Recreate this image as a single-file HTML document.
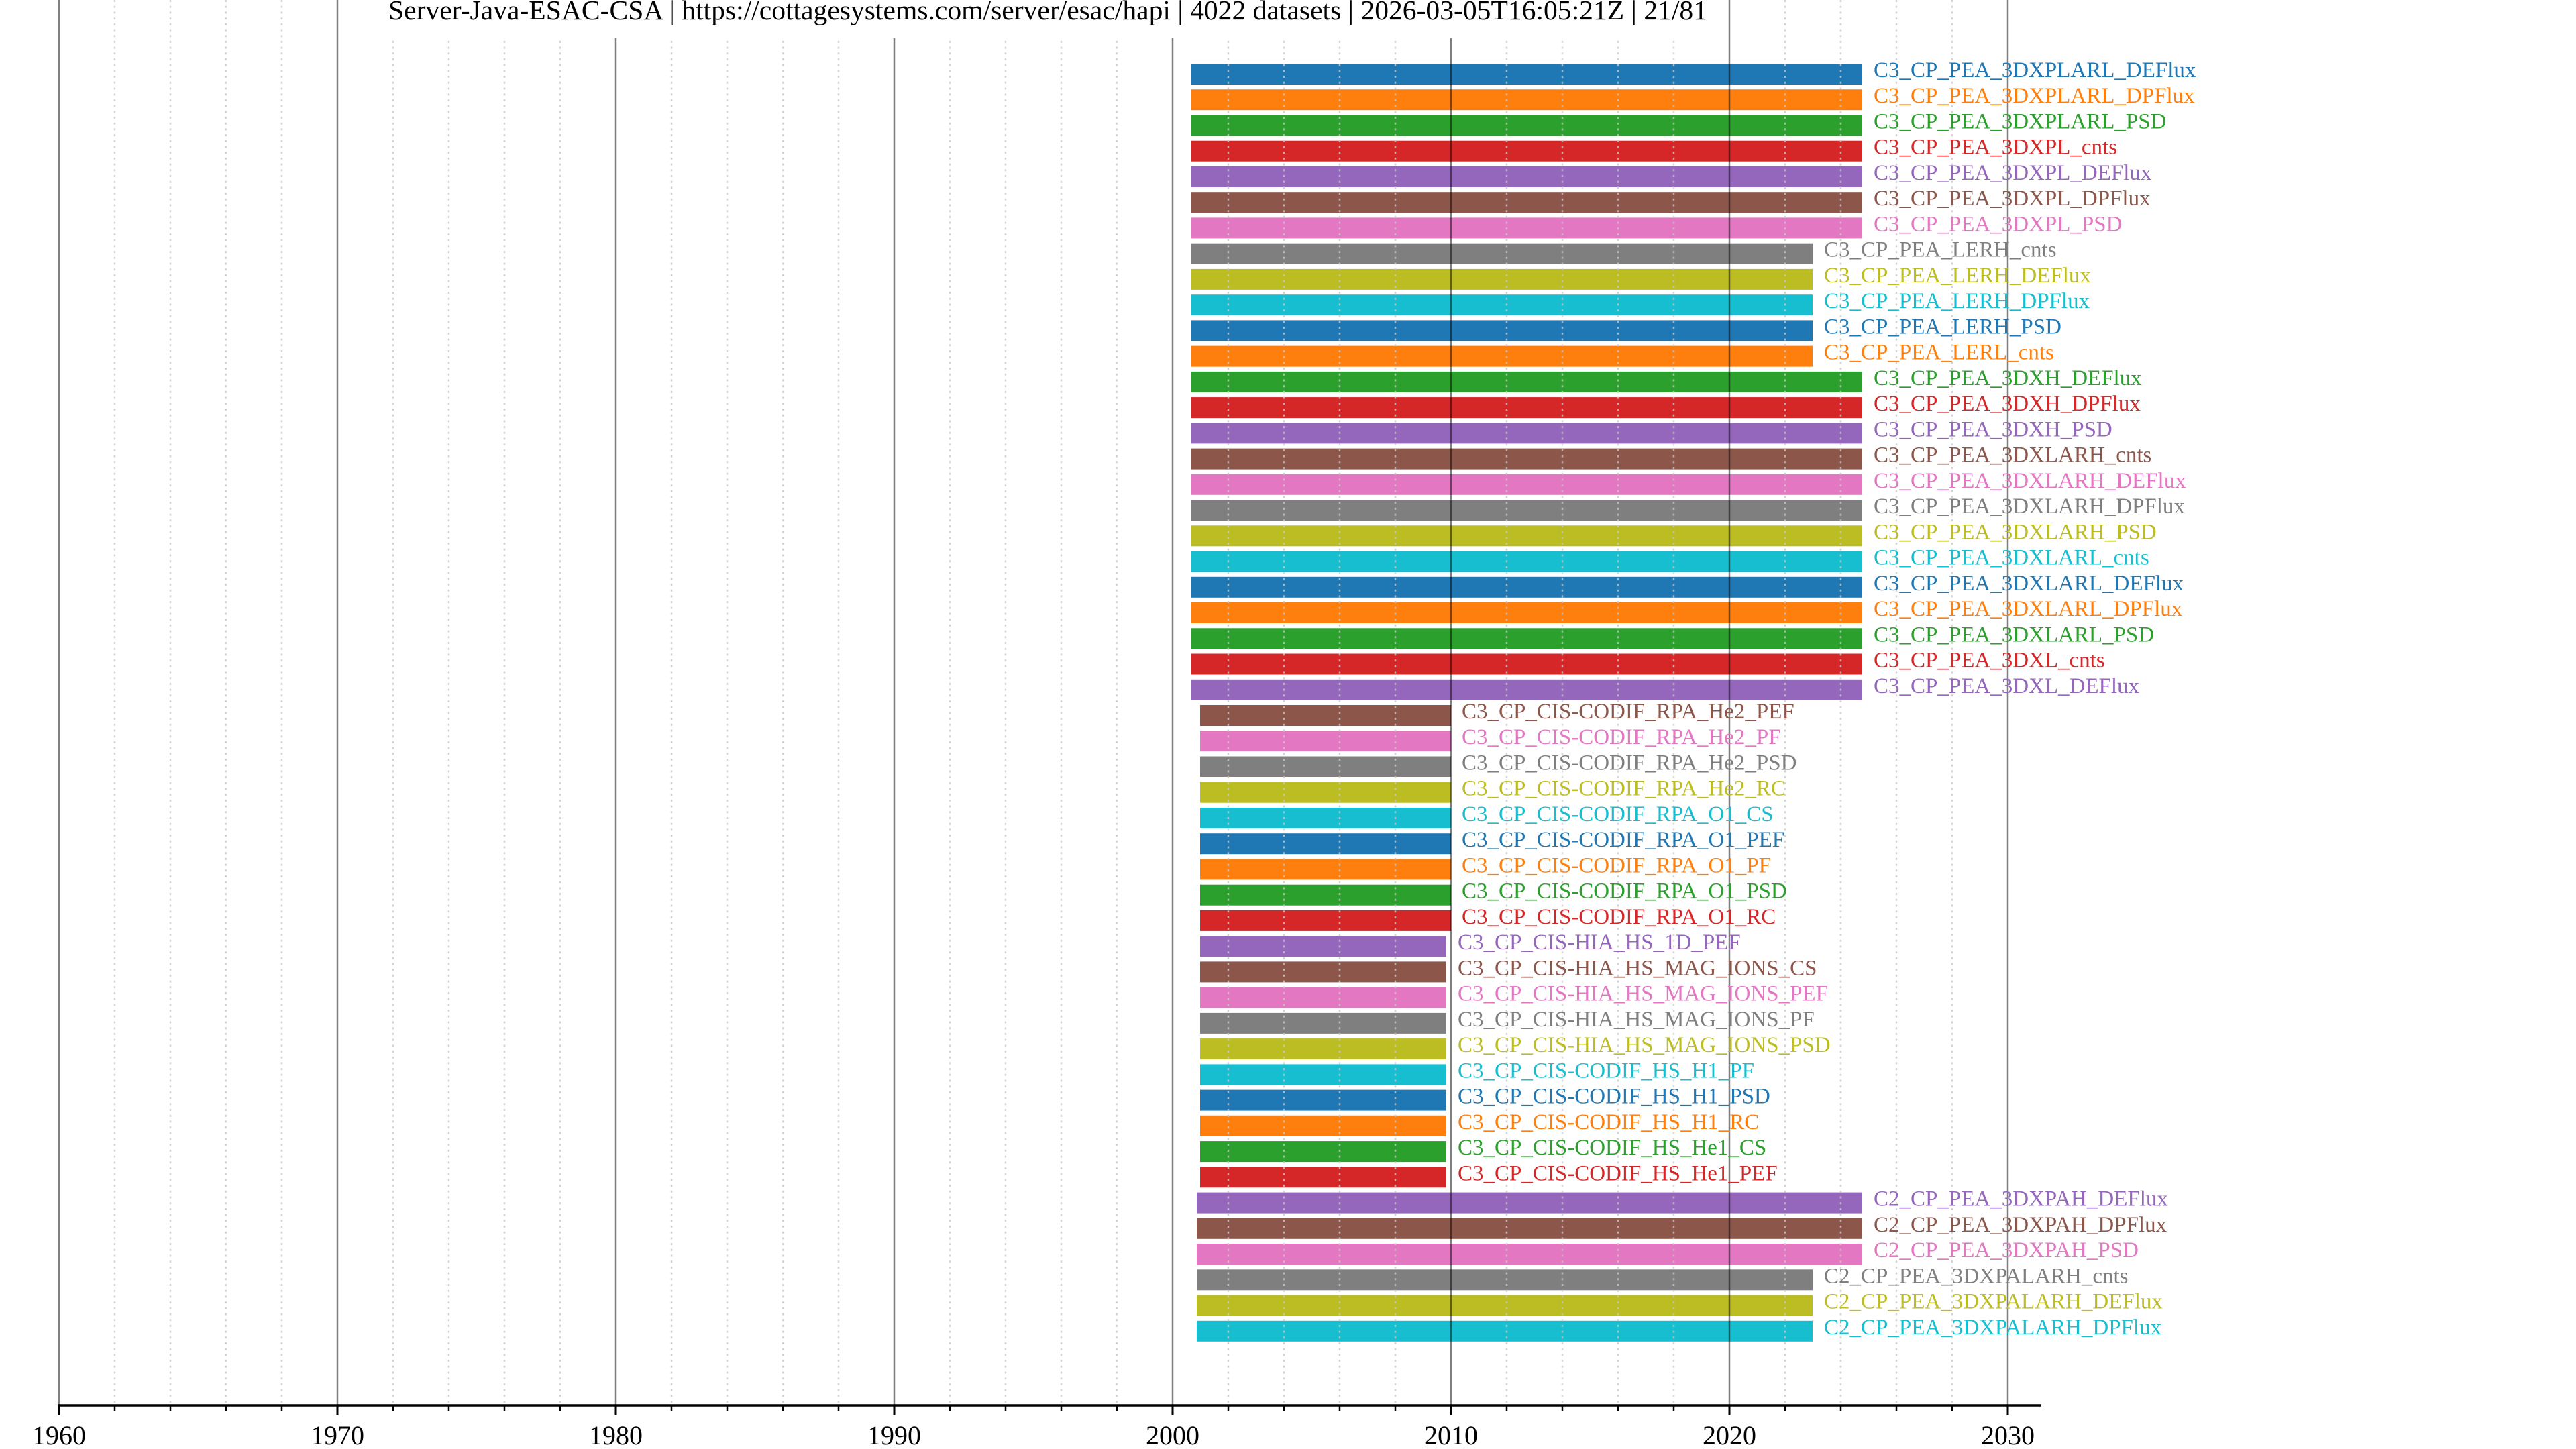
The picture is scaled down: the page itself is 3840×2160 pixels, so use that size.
<!DOCTYPE html>
<html><head><meta charset="utf-8"><style>
html,body{margin:0;padding:0;background:#fff;}
svg{display:block;font-family:"Liberation Serif",serif;}
</style></head><body>
<svg width="3840" height="2160" viewBox="0 0 3840 2160" xmlns="http://www.w3.org/2000/svg">
<rect width="3840" height="2160" fill="#fff"/>
<g id="bars">
<rect x="1776" y="95.0" width="1000" height="31" fill="#1f77b4"/>
<rect x="1776" y="133.2" width="1000" height="31" fill="#ff7f0e"/>
<rect x="1776" y="171.5" width="1000" height="31" fill="#2ca02c"/>
<rect x="1776" y="209.7" width="1000" height="31" fill="#d62728"/>
<rect x="1776" y="248.0" width="1000" height="31" fill="#9467bd"/>
<rect x="1776" y="286.2" width="1000" height="31" fill="#8c564b"/>
<rect x="1776" y="324.4" width="1000" height="31" fill="#e377c2"/>
<rect x="1776" y="362.7" width="926" height="31" fill="#7f7f7f"/>
<rect x="1776" y="400.9" width="926" height="31" fill="#bcbd22"/>
<rect x="1776" y="439.2" width="926" height="31" fill="#17becf"/>
<rect x="1776" y="477.4" width="926" height="31" fill="#1f77b4"/>
<rect x="1776" y="515.6" width="926" height="31" fill="#ff7f0e"/>
<rect x="1776" y="553.9" width="1000" height="31" fill="#2ca02c"/>
<rect x="1776" y="592.1" width="1000" height="31" fill="#d62728"/>
<rect x="1776" y="630.4" width="1000" height="31" fill="#9467bd"/>
<rect x="1776" y="668.6" width="1000" height="31" fill="#8c564b"/>
<rect x="1776" y="706.8" width="1000" height="31" fill="#e377c2"/>
<rect x="1776" y="745.1" width="1000" height="31" fill="#7f7f7f"/>
<rect x="1776" y="783.3" width="1000" height="31" fill="#bcbd22"/>
<rect x="1776" y="821.6" width="1000" height="31" fill="#17becf"/>
<rect x="1776" y="859.8" width="1000" height="31" fill="#1f77b4"/>
<rect x="1776" y="898.0" width="1000" height="31" fill="#ff7f0e"/>
<rect x="1776" y="936.3" width="1000" height="31" fill="#2ca02c"/>
<rect x="1776" y="974.5" width="1000" height="31" fill="#d62728"/>
<rect x="1776" y="1012.8" width="1000" height="31" fill="#9467bd"/>
<rect x="1789" y="1051.0" width="374" height="31" fill="#8c564b"/>
<rect x="1789" y="1089.2" width="374" height="31" fill="#e377c2"/>
<rect x="1789" y="1127.5" width="374" height="31" fill="#7f7f7f"/>
<rect x="1789" y="1165.7" width="374" height="31" fill="#bcbd22"/>
<rect x="1789" y="1204.0" width="374" height="31" fill="#17becf"/>
<rect x="1789" y="1242.2" width="374" height="31" fill="#1f77b4"/>
<rect x="1789" y="1280.4" width="374" height="31" fill="#ff7f0e"/>
<rect x="1789" y="1318.7" width="374" height="31" fill="#2ca02c"/>
<rect x="1789" y="1356.9" width="374" height="31" fill="#d62728"/>
<rect x="1789" y="1395.2" width="367" height="31" fill="#9467bd"/>
<rect x="1789" y="1433.4" width="367" height="31" fill="#8c564b"/>
<rect x="1789" y="1471.6" width="367" height="31" fill="#e377c2"/>
<rect x="1789" y="1509.9" width="367" height="31" fill="#7f7f7f"/>
<rect x="1789" y="1548.1" width="367" height="31" fill="#bcbd22"/>
<rect x="1789" y="1586.4" width="367" height="31" fill="#17becf"/>
<rect x="1789" y="1624.6" width="367" height="31" fill="#1f77b4"/>
<rect x="1789" y="1662.8" width="367" height="31" fill="#ff7f0e"/>
<rect x="1789" y="1701.1" width="367" height="31" fill="#2ca02c"/>
<rect x="1789" y="1739.3" width="367" height="31" fill="#d62728"/>
<rect x="1784" y="1777.6" width="992" height="31" fill="#9467bd"/>
<rect x="1784" y="1815.8" width="992" height="31" fill="#8c564b"/>
<rect x="1784" y="1854.0" width="992" height="31" fill="#e377c2"/>
<rect x="1784" y="1892.3" width="918" height="31" fill="#7f7f7f"/>
<rect x="1784" y="1930.5" width="918" height="31" fill="#bcbd22"/>
<rect x="1784" y="1968.8" width="918" height="31" fill="#17becf"/>
</g>
<g stroke="#c8c8c8" stroke-opacity="0.8" stroke-width="2.5" stroke-dasharray="3 5.7">
<line x1="171" y1="0" x2="171" y2="2094"/><line x1="254" y1="0" x2="254" y2="2094"/><line x1="337" y1="0" x2="337" y2="2094"/><line x1="420" y1="0" x2="420" y2="2094"/>
<line x1="586" y1="0" x2="586" y2="2094"/><line x1="669" y1="0" x2="669" y2="2094"/><line x1="752" y1="0" x2="752" y2="2094"/><line x1="835" y1="0" x2="835" y2="2094"/>
<line x1="1001" y1="0" x2="1001" y2="2094"/><line x1="1084" y1="0" x2="1084" y2="2094"/><line x1="1167" y1="0" x2="1167" y2="2094"/><line x1="1250" y1="0" x2="1250" y2="2094"/>
<line x1="1416" y1="0" x2="1416" y2="2094"/><line x1="1499" y1="0" x2="1499" y2="2094"/><line x1="1582" y1="0" x2="1582" y2="2094"/><line x1="1665" y1="0" x2="1665" y2="2094"/>
<line x1="1831" y1="0" x2="1831" y2="2094"/><line x1="1914" y1="0" x2="1914" y2="2094"/><line x1="1997" y1="0" x2="1997" y2="2094"/><line x1="2080" y1="0" x2="2080" y2="2094"/>
<line x1="2246" y1="0" x2="2246" y2="2094"/><line x1="2329" y1="0" x2="2329" y2="2094"/><line x1="2412" y1="0" x2="2412" y2="2094"/><line x1="2495" y1="0" x2="2495" y2="2094"/>
<line x1="2661" y1="0" x2="2661" y2="2094"/><line x1="2744" y1="0" x2="2744" y2="2094"/><line x1="2827" y1="0" x2="2827" y2="2094"/><line x1="2910" y1="0" x2="2910" y2="2094"/>
</g>
<g stroke="#000" stroke-opacity="0.5" stroke-width="2.5">
<line x1="88" y1="0" x2="88" y2="2094"/><line x1="503" y1="0" x2="503" y2="2094"/><line x1="918" y1="0" x2="918" y2="2094"/><line x1="1333" y1="0" x2="1333" y2="2094"/>
<line x1="1748" y1="0" x2="1748" y2="2094"/><line x1="2163" y1="0" x2="2163" y2="2094"/><line x1="2578" y1="0" x2="2578" y2="2094"/><line x1="2993" y1="0" x2="2993" y2="2094"/>
</g>
<g font-size="33">
<text x="2793" y="115.0" fill="#1f77b4">C3_CP_PEA_3DXPLARL_DEFlux</text>
<text x="2793" y="153.2" fill="#ff7f0e">C3_CP_PEA_3DXPLARL_DPFlux</text>
<text x="2793" y="191.5" fill="#2ca02c">C3_CP_PEA_3DXPLARL_PSD</text>
<text x="2793" y="229.7" fill="#d62728">C3_CP_PEA_3DXPL_cnts</text>
<text x="2793" y="268.0" fill="#9467bd">C3_CP_PEA_3DXPL_DEFlux</text>
<text x="2793" y="306.2" fill="#8c564b">C3_CP_PEA_3DXPL_DPFlux</text>
<text x="2793" y="344.4" fill="#e377c2">C3_CP_PEA_3DXPL_PSD</text>
<text x="2719" y="382.7" fill="#7f7f7f">C3_CP_PEA_LERH_cnts</text>
<text x="2719" y="420.9" fill="#bcbd22">C3_CP_PEA_LERH_DEFlux</text>
<text x="2719" y="459.2" fill="#17becf">C3_CP_PEA_LERH_DPFlux</text>
<text x="2719" y="497.4" fill="#1f77b4">C3_CP_PEA_LERH_PSD</text>
<text x="2719" y="535.6" fill="#ff7f0e">C3_CP_PEA_LERL_cnts</text>
<text x="2793" y="573.9" fill="#2ca02c">C3_CP_PEA_3DXH_DEFlux</text>
<text x="2793" y="612.1" fill="#d62728">C3_CP_PEA_3DXH_DPFlux</text>
<text x="2793" y="650.4" fill="#9467bd">C3_CP_PEA_3DXH_PSD</text>
<text x="2793" y="688.6" fill="#8c564b">C3_CP_PEA_3DXLARH_cnts</text>
<text x="2793" y="726.8" fill="#e377c2">C3_CP_PEA_3DXLARH_DEFlux</text>
<text x="2793" y="765.1" fill="#7f7f7f">C3_CP_PEA_3DXLARH_DPFlux</text>
<text x="2793" y="803.3" fill="#bcbd22">C3_CP_PEA_3DXLARH_PSD</text>
<text x="2793" y="841.6" fill="#17becf">C3_CP_PEA_3DXLARL_cnts</text>
<text x="2793" y="879.8" fill="#1f77b4">C3_CP_PEA_3DXLARL_DEFlux</text>
<text x="2793" y="918.0" fill="#ff7f0e">C3_CP_PEA_3DXLARL_DPFlux</text>
<text x="2793" y="956.3" fill="#2ca02c">C3_CP_PEA_3DXLARL_PSD</text>
<text x="2793" y="994.5" fill="#d62728">C3_CP_PEA_3DXL_cnts</text>
<text x="2793" y="1032.8" fill="#9467bd">C3_CP_PEA_3DXL_DEFlux</text>
<text x="2179" y="1071.0" fill="#8c564b">C3_CP_CIS-CODIF_RPA_He2_PEF</text>
<text x="2179" y="1109.2" fill="#e377c2">C3_CP_CIS-CODIF_RPA_He2_PF</text>
<text x="2179" y="1147.5" fill="#7f7f7f">C3_CP_CIS-CODIF_RPA_He2_PSD</text>
<text x="2179" y="1185.7" fill="#bcbd22">C3_CP_CIS-CODIF_RPA_He2_RC</text>
<text x="2179" y="1224.0" fill="#17becf">C3_CP_CIS-CODIF_RPA_O1_CS</text>
<text x="2179" y="1262.2" fill="#1f77b4">C3_CP_CIS-CODIF_RPA_O1_PEF</text>
<text x="2179" y="1300.4" fill="#ff7f0e">C3_CP_CIS-CODIF_RPA_O1_PF</text>
<text x="2179" y="1338.7" fill="#2ca02c">C3_CP_CIS-CODIF_RPA_O1_PSD</text>
<text x="2179" y="1376.9" fill="#d62728">C3_CP_CIS-CODIF_RPA_O1_RC</text>
<text x="2173" y="1415.2" fill="#9467bd">C3_CP_CIS-HIA_HS_1D_PEF</text>
<text x="2173" y="1453.4" fill="#8c564b">C3_CP_CIS-HIA_HS_MAG_IONS_CS</text>
<text x="2173" y="1491.6" fill="#e377c2">C3_CP_CIS-HIA_HS_MAG_IONS_PEF</text>
<text x="2173" y="1529.9" fill="#7f7f7f">C3_CP_CIS-HIA_HS_MAG_IONS_PF</text>
<text x="2173" y="1568.1" fill="#bcbd22">C3_CP_CIS-HIA_HS_MAG_IONS_PSD</text>
<text x="2173" y="1606.4" fill="#17becf">C3_CP_CIS-CODIF_HS_H1_PF</text>
<text x="2173" y="1644.6" fill="#1f77b4">C3_CP_CIS-CODIF_HS_H1_PSD</text>
<text x="2173" y="1682.8" fill="#ff7f0e">C3_CP_CIS-CODIF_HS_H1_RC</text>
<text x="2173" y="1721.1" fill="#2ca02c">C3_CP_CIS-CODIF_HS_He1_CS</text>
<text x="2173" y="1759.3" fill="#d62728">C3_CP_CIS-CODIF_HS_He1_PEF</text>
<text x="2793" y="1797.6" fill="#9467bd">C2_CP_PEA_3DXPAH_DEFlux</text>
<text x="2793" y="1835.8" fill="#8c564b">C2_CP_PEA_3DXPAH_DPFlux</text>
<text x="2793" y="1874.0" fill="#e377c2">C2_CP_PEA_3DXPAH_PSD</text>
<text x="2719" y="1912.3" fill="#7f7f7f">C2_CP_PEA_3DXPALARH_cnts</text>
<text x="2719" y="1950.5" fill="#bcbd22">C2_CP_PEA_3DXPALARH_DEFlux</text>
<text x="2719" y="1988.8" fill="#17becf">C2_CP_PEA_3DXPALARH_DPFlux</text>
</g>
<rect x="572" y="0" width="1988" height="57" fill="#fff"/>
<text x="579" y="29" font-size="41" fill="#000" textLength="1966" lengthAdjust="spacingAndGlyphs">Server-Java-ESAC-CSA | https://cottagesystems.com/server/esac/hapi | 4022 datasets | 2026-03-05T16:05:21Z | 21/81</text>
<line x1="87" y1="2095" x2="3043" y2="2095" stroke="#000" stroke-width="3.5"/>
<g stroke="#000" stroke-width="3">
<line x1="88" y1="2095" x2="88" y2="2110"/><line x1="503" y1="2095" x2="503" y2="2110"/><line x1="918" y1="2095" x2="918" y2="2110"/><line x1="1333" y1="2095" x2="1333" y2="2110"/>
<line x1="1748" y1="2095" x2="1748" y2="2110"/><line x1="2163" y1="2095" x2="2163" y2="2110"/><line x1="2578" y1="2095" x2="2578" y2="2110"/><line x1="2993" y1="2095" x2="2993" y2="2110"/>
</g>
<g stroke="#000" stroke-width="2.5">
<line x1="171" y1="2095" x2="171" y2="2103"/><line x1="254" y1="2095" x2="254" y2="2103"/><line x1="337" y1="2095" x2="337" y2="2103"/><line x1="420" y1="2095" x2="420" y2="2103"/>
<line x1="586" y1="2095" x2="586" y2="2103"/><line x1="669" y1="2095" x2="669" y2="2103"/><line x1="752" y1="2095" x2="752" y2="2103"/><line x1="835" y1="2095" x2="835" y2="2103"/>
<line x1="1001" y1="2095" x2="1001" y2="2103"/><line x1="1084" y1="2095" x2="1084" y2="2103"/><line x1="1167" y1="2095" x2="1167" y2="2103"/><line x1="1250" y1="2095" x2="1250" y2="2103"/>
<line x1="1416" y1="2095" x2="1416" y2="2103"/><line x1="1499" y1="2095" x2="1499" y2="2103"/><line x1="1582" y1="2095" x2="1582" y2="2103"/><line x1="1665" y1="2095" x2="1665" y2="2103"/>
<line x1="1831" y1="2095" x2="1831" y2="2103"/><line x1="1914" y1="2095" x2="1914" y2="2103"/><line x1="1997" y1="2095" x2="1997" y2="2103"/><line x1="2080" y1="2095" x2="2080" y2="2103"/>
<line x1="2246" y1="2095" x2="2246" y2="2103"/><line x1="2329" y1="2095" x2="2329" y2="2103"/><line x1="2412" y1="2095" x2="2412" y2="2103"/><line x1="2495" y1="2095" x2="2495" y2="2103"/>
<line x1="2661" y1="2095" x2="2661" y2="2103"/><line x1="2744" y1="2095" x2="2744" y2="2103"/><line x1="2827" y1="2095" x2="2827" y2="2103"/><line x1="2910" y1="2095" x2="2910" y2="2103"/>
</g>
<g font-size="40" text-anchor="middle" fill="#000">
<text x="88" y="2153">1960</text><text x="503" y="2153">1970</text><text x="918" y="2153">1980</text><text x="1333" y="2153">1990</text>
<text x="1748" y="2153">2000</text><text x="2163" y="2153">2010</text><text x="2578" y="2153">2020</text><text x="2993" y="2153">2030</text>
</g>
</svg>
</body></html>
